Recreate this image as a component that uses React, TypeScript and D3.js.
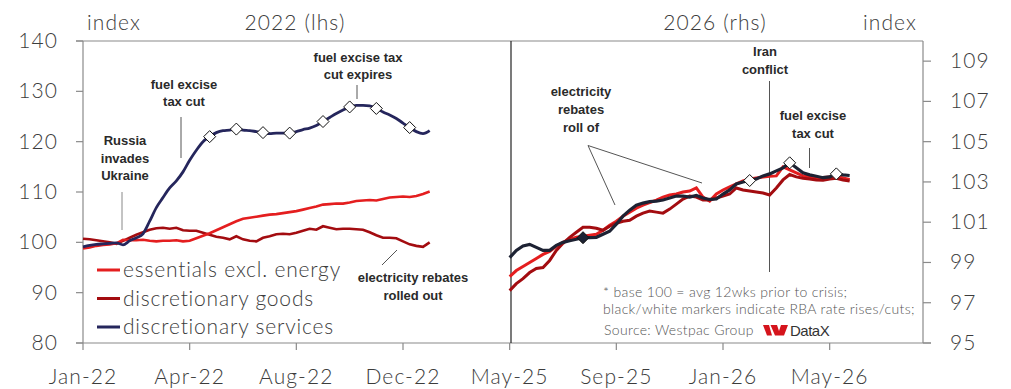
import React from "react";
import * as d3 from "d3";

// ---- data ----
const xTickLabels = ["Jan-22", "Apr-22", "Aug-22", "Dec-22", "May-25", "Sep-25", "Jan-26", "May-26"];
const leftTicks = [80, 90, 100, 110, 120, 130, 140];
const rightTicks = [95, 97, 99, 101, 103, 105, 107, 109];

// 2022 weekly series (lhs), week index 0..52
const essentials2022 = [98.8, 99.0, 99.3, 99.5, 99.6, 99.8, 100.5, 100.4, 100.4, 100.5, 100.3, 100.2, 100.3, 100.3, 100.4, 100.2, 100.3, 100.8, 101.3, 101.8, 102.4, 103.0, 103.6, 104.2, 104.7, 104.9, 105.1, 105.3, 105.5, 105.6, 105.8, 106.0, 106.2, 106.5, 106.8, 107.1, 107.5, 107.6, 107.7, 107.7, 107.9, 108.2, 108.3, 108.4, 108.3, 108.6, 108.9, 109.0, 109.1, 109.0, 109.2, 109.6, 110.1];
const goods2022 = [100.7, 100.6, 100.4, 100.2, 100.0, 99.7, 100.3, 100.9, 101.5, 102.0, 102.5, 102.8, 102.9, 102.7, 102.9, 102.4, 102.3, 102.3, 101.9, 101.5, 101.1, 100.9, 100.6, 101.2, 100.6, 100.3, 100.2, 100.9, 101.2, 101.6, 101.7, 101.6, 101.9, 102.3, 102.7, 102.5, 103.2, 102.9, 102.6, 102.7, 102.7, 102.6, 102.5, 102.0, 101.4, 100.9, 100.9, 100.8, 100.2, 99.6, 99.3, 99.1, 100.0];
const services2022 = [99.1, 99.4, 99.6, 99.7, 99.8, 99.9, 99.5, 100.3, 100.9, 101.7, 104.2, 106.9, 108.9, 110.8, 112.2, 114.0, 116.3, 118.3, 120.0, 121.0, 121.8, 122.2, 122.3, 122.5, 122.3, 122.2, 122.0, 121.8, 121.6, 121.7, 121.7, 121.7, 122.0, 122.4, 122.7, 123.2, 124.0, 124.8, 125.6, 126.3, 126.9, 127.2, 127.2, 127.1, 126.6, 125.9, 125.3, 124.6, 123.7, 122.8, 122.0, 121.6, 122.2];
const start2022 = 0;
const rises2022 = [19, 23, 27, 31, 36, 40, 44, 49];

// 2025-26 weekly series (rhs), week index 64..115
const essentials2026 = [98.3, 98.6, 98.8, 99.0, 99.2, 99.4, 99.55, 99.8, 100.0, 100.15, 100.25, 100.3, 100.35, 100.4, 100.6, 100.85, 101.05, 101.3, 101.5, 101.7, 101.85, 101.97, 102.1, 102.25, 102.35, 102.4, 102.5, 102.55, 102.7, 102.25, 102.05, 102.4, 102.6, 102.75, 102.9, 103.05, 103.15, 103.2, 103.25, 103.28, 103.3, 103.75, 103.6, 103.45, 103.3, 103.25, 103.2, 103.22, 103.25, 103.28, 103.2, 103.12];
const goods2026 = [97.6, 97.95, 98.2, 98.5, 98.7, 98.75, 99.1, 99.6, 99.95, 100.25, 100.5, 100.75, 100.75, 100.7, 100.6, 100.8, 100.95, 101.05, 101.1, 101.3, 101.45, 101.55, 101.5, 101.45, 101.65, 101.9, 102.15, 102.3, 102.25, 102.1, 102.1, 102.2, 102.3, 102.4, 102.7, 102.6, 102.55, 102.5, 102.45, 102.35, 102.7, 103.1, 103.37, 103.25, 103.18, 103.15, 103.1, 103.08, 103.15, 103.18, 103.1, 103.05];
const services2026 = [99.24, 99.6, 99.82, 99.9, 99.75, 99.6, 99.6, 99.85, 100.0, 100.08, 100.15, 100.23, 100.23, 100.25, 100.4, 100.55, 100.9, 101.3, 101.6, 101.84, 101.95, 102.02, 102.05, 102.1, 102.2, 102.3, 102.3, 102.25, 102.33, 102.2, 102.13, 102.15, 102.4, 102.6, 102.9, 103.0, 103.07, 103.15, 103.3, 103.4, 103.55, 103.7, 103.95, 103.7, 103.45, 103.35, 103.28, 103.21, 103.25, 103.4, 103.35, 103.32];
const start2026 = 64;
const cuts2026 = [75];
const rises2026 = [100, 106, 113];

const legendLabels = ["essentials excl. energy", "discretionary goods", "discretionary services"];

// ---- styles ----
const RED = "#e41e1f";
const DARKRED = "#a30c10";
const NAVY = "#25265c";
const NAVY2 = "#1d2233";
const AXIS = "#8a8a8a";
const TXT = "#3c3c3c";
const ANN = "#2a2a2a";
const FONT = "Lato, 'Open Sans', sans-serif";
const BOLD = "'Liberation Sans', Arial, sans-serif";
const LS = 1.1;

const W = 1011, H = 389;
const L = 83, R = 923, T = 41, B = 343;

export default function App() {
  const x = d3.scaleLinear().domain([0, 126]).range([L, R]);
  const yL = d3.scaleLinear().domain([80, 140]).range([B, T]);
  const yR = d3.scaleLinear().domain([95, 110]).range([B, T]);
  const divX = x(64.2);

  const mk = (vals: number[], start: number, y: any, curve: any) =>
    d3.line<number>().x((_, i) => x(start + i)).y((v) => y(v)).curve(curve)(vals) || "";

  const diamond = (cx: number, cy: number, fill: string, key: string) => (
    <path key={key} d={`M${cx},${cy - 6}L${cx + 6},${cy}L${cx},${cy + 6}L${cx - 6},${cy}Z`} fill={fill} stroke="#111" strokeWidth={1} />
  );

  const ann = (lines: string[], cx: number, y0: number, dy: number, key: string) => (
    <text key={key} x={cx} y={y0} textAnchor="middle" fontFamily={BOLD} fontWeight="bold" fontSize={13} fill={ANN}>
      {lines.map((s, i) => (
        <tspan key={i} x={cx} y={y0 + i * dy}>{s}</tspan>
      ))}
    </text>
  );

  const big = { fontFamily: FONT, fontWeight: 300, fontSize: 21, fill: TXT, letterSpacing: LS } as any;

  const legendColors = [RED, DARKRED, NAVY];
  const legendY = [270, 298.5, 327];

  return (
    <svg width={W} height={H} style={{ position: "absolute", left: 0, top: 0, background: "#fff" }}>
      {/* frame */}
      <line x1={L - 7} x2={R} y1={T} y2={T} stroke={AXIS} strokeWidth={1.2} />
      <line x1={L} x2={L} y1={T} y2={B} stroke={AXIS} strokeWidth={1.2} />
      <line x1={R} x2={R} y1={T} y2={B} stroke={AXIS} strokeWidth={1.2} />
      <line x1={L - 7} x2={R + 8} y1={B} y2={B} stroke={AXIS} strokeWidth={1.2} />
      <line x1={divX} x2={divX} y1={T} y2={B} stroke="#222" strokeWidth={1.2} />

      {/* left ticks */}
      {leftTicks.map((t) => (
        <g key={"l" + t}>
          <line x1={L - 7} x2={L} y1={yL(t)} y2={yL(t)} stroke={AXIS} strokeWidth={1.2} />
          <text x={58} y={yL(t) + 7} textAnchor="end" {...big}>{t}</text>
        </g>
      ))}
      {/* right ticks */}
      {rightTicks.map((t) => (
        <g key={"r" + t}>
          <line x1={R} x2={R + 8} y1={yR(t)} y2={yR(t)} stroke={AXIS} strokeWidth={1.2} />
          <text x={950} y={yR(t) + 7} textAnchor="start" {...big}>{t}</text>
        </g>
      ))}
      {/* x ticks */}
      {xTickLabels.map((lab, k) => {
        const px = x(k * 16);
        return (
          <g key={lab}>
            <line x1={px} x2={px} y1={B} y2={B + 7} stroke={AXIS} strokeWidth={1.2} />
            <text x={px} y={384} textAnchor="middle" {...big}>{lab}</text>
          </g>
        );
      })}

      {/* titles */}
      <text x={87} y={30} {...big}>index</text>
      <text x={295} y={30} textAnchor="middle" {...big}>2022 (lhs)</text>
      <text x={715} y={30} textAnchor="middle" {...big}>2026 (rhs)</text>
      <text x={917} y={30} textAnchor="end" {...big}>index</text>

      {/* annotation lines */}
      <g stroke="#555" strokeWidth={1}>
        <line x1={122} x2={122} y1={192} y2={230} stroke="#888" />
        <line x1={181} x2={181} y1={117} y2={158} />
        <line x1={357} x2={357} y1={85} y2={99} />
        <line x1={397} x2={382} y1={250} y2={265} />
        <line x1={588} x2={702} y1={145.5} y2={183} />
        <line x1={588} x2={615} y1={145.5} y2={205} />
        <line x1={769.5} x2={769.5} y1={81} y2={272} />
        <line x1={809.5} x2={809.5} y1={148} y2={168} />
      </g>

      {/* lhs lines */}
      <path d={mk(goods2022, start2022, yL, d3.curveLinear)} fill="none" stroke={DARKRED} strokeWidth={2.6} />
      <path d={mk(essentials2022, start2022, yL, d3.curveLinear)} fill="none" stroke={RED} strokeWidth={2.6} />
      <path d={mk(services2022, start2022, yL, d3.curveMonotoneX)} fill="none" stroke={NAVY} strokeWidth={2.8} />
      {rises2022.map((i) => diamond(x(i), yL(services2022[i - start2022]), "#fff", "ld" + i))}

      {/* rhs lines */}
      <path d={mk(essentials2026, start2026, yR, d3.curveLinear)} fill="none" stroke={RED} strokeWidth={3} />
      <path d={mk(goods2026, start2026, yR, d3.curveLinear)} fill="none" stroke={DARKRED} strokeWidth={3} />
      <path d={mk(services2026, start2026, yR, d3.curveLinear)} fill="none" stroke={NAVY2} strokeWidth={3.2} />
      {cuts2026.map((i) => diamond(x(i), yR(services2026[i - start2026]), NAVY2, "rc" + i))}
      {rises2026.map((i) => diamond(x(i), yR(services2026[i - start2026]), "#fff", "rr" + i))}

      {/* annotations */}
      {ann(["Russia", "invades", "Ukraine"], 125, 145, 17.5, "a1")}
      {ann(["fuel excise", "tax cut"], 184, 89, 17, "a2")}
      {ann(["fuel excise tax", "cut expires"], 358, 62, 17, "a3")}
      {ann(["electricity rebates", "rolled out"], 413, 282, 18, "a4")}
      {ann(["electricity", "rebates", "roll of"], 581, 96, 18, "a5")}
      {ann(["Iran", "conflict"], 765, 56, 17.5, "a6")}
      {ann(["fuel excise", "tax cut"], 813, 120, 18, "a7")}

      {/* legend */}
      {legendLabels.map((lab, k) => (
        <g key={lab}>
          <line x1={97} x2={120} y1={legendY[k]} y2={legendY[k]} stroke={legendColors[k]} strokeWidth={3} />
          <text x={123} y={legendY[k] + 7} {...big} letterSpacing={0.8}>{lab}</text>
        </g>
      ))}

      {/* notes */}
      <text fontFamily={FONT} fontWeight={300} fontSize={14} fill="#555" letterSpacing={0.35}>
        <tspan x={603} y={297}>* base 100 = avg 12wks prior to crisis;</tspan>
        <tspan x={603} y={314}>black/white markers indicate RBA rate rises/cuts;</tspan>
        <tspan x={604} y={335}>Source: Westpac Group</tspan>
      </text>
      <g fill="#d5141c">
        <path d="M763,325 L769,325 L772,335.5 L767,335.5 Z" />
        <path d="M770.5,325 L777,325 L779,331 L781,325 L788,325 L784,335.5 L775,335.5 Z" />
      </g>
      <text x={790} y={335.5} fontFamily={BOLD} fontSize={15} fill="#333" letterSpacing={-0.5}>DataX</text>
    </svg>
  );
}
